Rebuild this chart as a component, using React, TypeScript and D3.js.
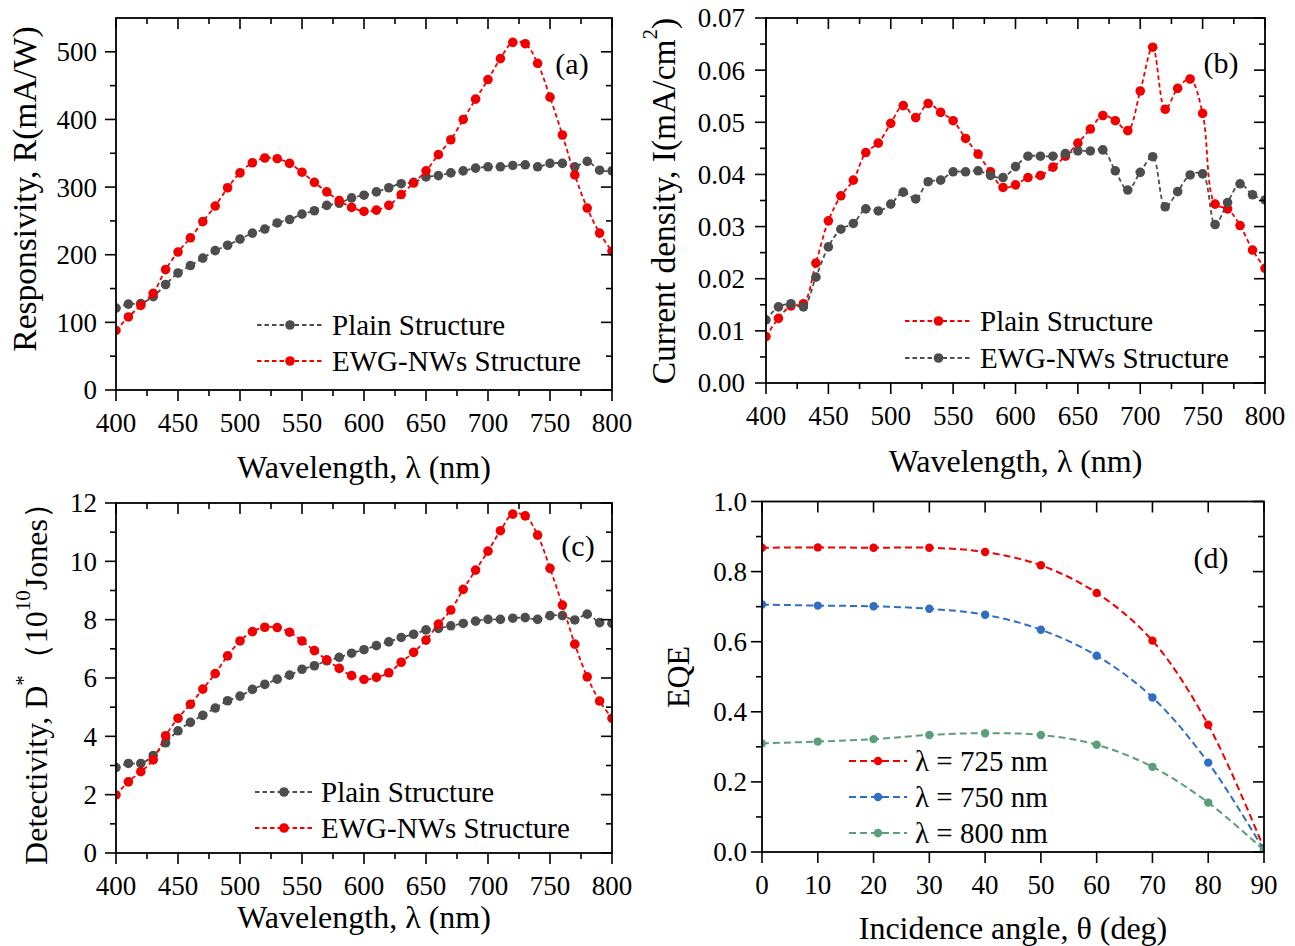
import React from 'react';
import * as d3 from 'd3';

const FONT = '"Liberation Serif", "Times New Roman", serif';

// ---------- data ----------
const wavelengths = [400, 410, 420, 430, 440, 450, 460, 470, 480, 490, 500, 510, 520, 530, 540, 550, 560, 570, 580, 590, 600, 610, 620, 630, 640, 650, 660, 670, 680, 690, 700, 710, 720, 730, 740, 750, 760, 770, 780, 790, 800];

// (a) Responsivity (mA/W)
const respPlain = [121, 127, 128, 138, 156, 173, 184, 195, 206, 214, 223, 232, 238, 247, 252, 260, 265, 273, 276, 284, 288, 293, 299, 305, 307, 315, 317, 321, 324, 328, 330, 330, 332, 333, 330, 335, 335, 330, 338, 325, 324];
const respEWG = [88, 108, 125, 143, 178, 204, 225, 249, 272, 299, 321, 336, 343, 342, 335, 322, 307, 293, 280, 270, 264, 266, 273, 289, 306, 324, 348, 370, 400, 430, 459, 490, 514, 512, 483, 433, 377, 318, 269, 232, 205];

// (b) Current density (mA/cm^2)
const curPlain = [0.0089, 0.0124, 0.0148, 0.0152, 0.0230, 0.0311, 0.0359, 0.0389, 0.0442, 0.0460, 0.0498, 0.0532, 0.0509, 0.0536, 0.0519, 0.0503, 0.0469, 0.0439, 0.0405, 0.0375, 0.0380, 0.0394, 0.0398, 0.0414, 0.0435, 0.0460, 0.0487, 0.0513, 0.0503, 0.0484, 0.0560, 0.0644, 0.0525, 0.0565, 0.0583, 0.0517, 0.0343, 0.0334, 0.0302, 0.0255, 0.0220];
const curEWG = [0.0121, 0.0146, 0.0152, 0.0146, 0.0203, 0.0261, 0.0295, 0.0306, 0.0334, 0.0330, 0.0343, 0.0366, 0.0353, 0.0386, 0.0389, 0.0405, 0.0405, 0.0407, 0.0398, 0.0394, 0.0415, 0.0435, 0.0435, 0.0435, 0.0440, 0.0445, 0.0445, 0.0447, 0.0407, 0.0370, 0.0404, 0.0434, 0.0338, 0.0367, 0.0399, 0.0401, 0.0304, 0.0346, 0.0382, 0.0361, 0.0351];

// (c) Detectivity (1e10 Jones)
const detPlain = [2.93, 3.07, 3.07, 3.34, 3.78, 4.19, 4.48, 4.72, 4.97, 5.22, 5.38, 5.61, 5.78, 5.96, 6.10, 6.30, 6.42, 6.59, 6.71, 6.85, 6.97, 7.11, 7.24, 7.39, 7.50, 7.65, 7.70, 7.79, 7.87, 7.95, 8.01, 8.01, 8.05, 8.07, 8.01, 8.14, 8.14, 7.99, 8.19, 7.90, 7.87];
const detEWG = [1.99, 2.44, 2.79, 3.19, 4.02, 4.62, 5.10, 5.62, 6.15, 6.76, 7.27, 7.59, 7.74, 7.73, 7.57, 7.27, 6.94, 6.62, 6.33, 6.08, 5.95, 6.02, 6.18, 6.54, 6.88, 7.30, 7.85, 8.33, 9.04, 9.70, 10.35, 11.05, 11.62, 11.56, 10.90, 9.76, 8.50, 7.16, 6.04, 5.21, 4.62];

// (d) EQE vs incidence angle
const angles = [0, 10, 20, 30, 40, 50, 60, 70, 80, 90];
const eqe725 = [0.868, 0.869, 0.868, 0.868, 0.856, 0.818, 0.739, 0.603, 0.363, 0.01];
const eqe750 = [0.706, 0.703, 0.701, 0.694, 0.677, 0.634, 0.560, 0.441, 0.255, 0.005];
const eqe800 = [0.310, 0.315, 0.322, 0.334, 0.339, 0.334, 0.306, 0.243, 0.141, 0.005];

// ---------- ticks ----------
const waveTicks = [400, 450, 500, 550, 600, 650, 700, 750, 800];
const waveMinor = [425, 475, 525, 575, 625, 675, 725, 775];
const respTicks = [0, 100, 200, 300, 400, 500];
const respMinor = [50, 150, 250, 350, 450];
const curTicks = [0, 0.01, 0.02, 0.03, 0.04, 0.05, 0.06, 0.07];
const curMinor = [0.005, 0.015, 0.025, 0.035, 0.045, 0.055, 0.065];
const detTicks = [0, 2, 4, 6, 8, 10, 12];
const detMinor = [1, 3, 5, 7, 9, 11];
const angleTicks = [0, 10, 20, 30, 40, 50, 60, 70, 80, 90];
const eqeTicks = [0, 0.2, 0.4, 0.6, 0.8, 1.0];
const eqeMinor = [0.1, 0.3, 0.5, 0.7, 0.9];

const RED = '#f20000';
const GRAY = '#4d4d4d';
const BLUE = '#2f6ec4';
const GREEN = '#5a9e7b';

type Series = { xs: number[]; ys: number[]; color: string; label: string };

interface PanelProps {
  id: string;
  left: number; right: number; top: number; bottom: number;
  xDomain: [number, number]; yDomain: [number, number];
  xMajor: number[]; xMinor: number[]; yMajor: number[]; yMinor: number[];
  xFmt: (v: number) => string; yFmt: (v: number) => string;
  yLabelGap: number;
  xTitle: React.ReactNode; xTitleY: number; xTitleSize: number;
  yTitle: React.ReactNode; yTitleX: number; yTitleY: number; yTitleSize: number;
  series: Series[];
  r: number; dash: string; lw: number;
  legend: { x1: number; x2: number; xt: number; ys: number[] };
  tag: string; tagX: number; tagY: number;
}

function Panel(p: PanelProps) {
  const x = d3.scaleLinear().domain(p.xDomain).range([p.left, p.right]);
  const y = d3.scaleLinear().domain(p.yDomain).range([p.bottom, p.top]);
  const line = d3
    .line<[number, number]>()
    .x((d) => x(d[0]))
    .y((d) => y(d[1]))
    .curve(d3.curveCatmullRom.alpha(0.5));
  const MAJ = 11;
  const MIN = 6;
  const clipId = `clip-${p.id}`;
  return (
    <g>
      <defs>
        <clipPath id={clipId}>
          <rect x={p.left} y={p.top} width={p.right - p.left} height={p.bottom - p.top} />
        </clipPath>
      </defs>
      <g clipPath={`url(#${clipId})`}>
        {p.series.map((s, i) => (
          <g key={i}>
            <path
              d={line(s.xs.map((v, j) => [v, s.ys[j]] as [number, number])) || ''}
              fill="none"
              stroke={s.color}
              strokeWidth={p.lw}
              strokeDasharray={p.dash}
            />
            {s.xs.map((v, j) => (
              <circle key={j} cx={x(v)} cy={y(s.ys[j])} r={p.r} fill={s.color} />
            ))}
          </g>
        ))}
      </g>
      <rect
        x={p.left}
        y={p.top}
        width={p.right - p.left}
        height={p.bottom - p.top}
        fill="none"
        stroke="#000"
        strokeWidth={1.8}
      />
      {p.xMajor.map((v) => (
        <g key={'xm' + v}>
          <line x1={x(v)} x2={x(v)} y1={p.bottom} y2={p.bottom + MAJ} stroke="#000" strokeWidth={1.6} />
          <line x1={x(v)} x2={x(v)} y1={p.top} y2={p.top + MAJ} stroke="#000" strokeWidth={1.6} />
          <text x={x(v)} y={p.bottom + 42} textAnchor="middle" fontSize={27} fontFamily={FONT} fill="#000">
            {p.xFmt(v)}
          </text>
        </g>
      ))}
      {p.xMinor.map((v) => (
        <g key={'xn' + v}>
          <line x1={x(v)} x2={x(v)} y1={p.bottom} y2={p.bottom + MIN} stroke="#000" strokeWidth={1.6} />
          <line x1={x(v)} x2={x(v)} y1={p.top} y2={p.top + MIN} stroke="#000" strokeWidth={1.6} />
        </g>
      ))}
      {p.yMajor.map((v) => (
        <g key={'ym' + v}>
          <line x1={p.left - MAJ} x2={p.left} y1={y(v)} y2={y(v)} stroke="#000" strokeWidth={1.6} />
          <line x1={p.right - MAJ} x2={p.right} y1={y(v)} y2={y(v)} stroke="#000" strokeWidth={1.6} />
          <text
            x={p.left - p.yLabelGap}
            y={y(v)}
            dy="0.35em"
            textAnchor="end"
            fontSize={27}
            fontFamily={FONT}
            fill="#000"
          >
            {p.yFmt(v)}
          </text>
        </g>
      ))}
      {p.yMinor.map((v) => (
        <g key={'yn' + v}>
          <line x1={p.left - MIN} x2={p.left} y1={y(v)} y2={y(v)} stroke="#000" strokeWidth={1.6} />
          <line x1={p.right - MIN} x2={p.right} y1={y(v)} y2={y(v)} stroke="#000" strokeWidth={1.6} />
        </g>
      ))}
      <text
        x={(p.left + p.right) / 2}
        y={p.xTitleY}
        textAnchor="middle"
        fontSize={p.xTitleSize}
        fontFamily={FONT}
        fill="#000"
      >
        {p.xTitle}
      </text>
      <text
        transform={`translate(${p.yTitleX},${p.yTitleY}) rotate(-90)`}
        textAnchor="middle"
        dominantBaseline="central"
        fontSize={p.yTitleSize}
        fontFamily={FONT}
        fill="#000"
      >
        {p.yTitle}
      </text>
      {p.series.map((s, i) => {
        const ly = p.legend.ys[i];
        const xm = (p.legend.x1 + p.legend.x2) / 2;
        return (
          <g key={'lg' + i}>
            <line
              x1={p.legend.x1}
              x2={p.legend.x2}
              y1={ly}
              y2={ly}
              stroke={s.color}
              strokeWidth={p.lw}
              strokeDasharray={p.dash}
            />
            <circle cx={xm} cy={ly} r={p.r} fill={s.color} />
            <text x={p.legend.xt} y={ly} dy="0.33em" fontSize={29} fontFamily={FONT} fill="#000">
              {s.label}
            </text>
          </g>
        );
      })}
      <text x={p.tagX} y={p.tagY} textAnchor="middle" fontSize={30} fontFamily={FONT} fill="#000">
        {p.tag}
      </text>
    </g>
  );
}

const fmtInt = d3.format('d');
const fmt2 = d3.format('.2f');
const fmt1 = d3.format('.1f');

const waveTitle = 'Wavelength, λ (nm)';

export default function App() {
  return (
    <svg
      width={1295}
      height={946}
      viewBox="0 0 1295 946"
      style={{ position: 'absolute', left: 0, top: 0, background: '#fff' }}
    >
      <rect x={0} y={0} width={1295} height={946} fill="#fff" />
      <Panel
        id="a"
        left={116}
        right={612}
        top={18}
        bottom={390}
        xDomain={[400, 800]}
        yDomain={[0, 550]}
        xMajor={waveTicks}
        xMinor={waveMinor}
        yMajor={respTicks}
        yMinor={respMinor}
        xFmt={fmtInt}
        yFmt={fmtInt}
        yLabelGap={19}
        xTitle={waveTitle}
        xTitleY={478}
        xTitleSize={32}
        yTitle={'Responsivity, R(mA/W)'}
        yTitleX={24}
        yTitleY={189}
        yTitleSize={33.5}
        series={[
          { xs: wavelengths, ys: respPlain, color: GRAY, label: 'Plain Structure' },
          { xs: wavelengths, ys: respEWG, color: RED, label: 'EWG-NWs Structure' },
        ]}
        r={4.8}
        dash="4.5,3"
        lw={1.8}
        legend={{ x1: 257, x2: 323, xt: 332, ys: [325, 361] }}
        tag="(a)"
        tagX={572}
        tagY={74}
      />
      <Panel
        id="b"
        left={766}
        right={1265}
        top={18}
        bottom={383}
        xDomain={[400, 800]}
        yDomain={[0, 0.07]}
        xMajor={waveTicks}
        xMinor={waveMinor}
        yMajor={curTicks}
        yMinor={curMinor}
        xFmt={fmtInt}
        yFmt={fmt2}
        yLabelGap={21}
        xTitle={waveTitle}
        xTitleY={472}
        xTitleSize={32}
        yTitle={
          <>
            Current density, I(mA/cm
            <tspan fontSize={21} dy={-13}>
              2
            </tspan>
            <tspan dy={13}>)</tspan>
          </>
        }
        yTitleX={663}
        yTitleY={201}
        yTitleSize={33.5}
        series={[
          { xs: wavelengths, ys: curPlain, color: RED, label: 'Plain Structure' },
          { xs: wavelengths, ys: curEWG, color: GRAY, label: 'EWG-NWs Structure' },
        ]}
        r={4.8}
        dash="4.5,3"
        lw={1.8}
        legend={{ x1: 905, x2: 972, xt: 980, ys: [321, 358] }}
        tag="(b)"
        tagX={1221}
        tagY={73}
      />
      <Panel
        id="c"
        left={116}
        right={612}
        top={503}
        bottom={853}
        xDomain={[400, 800]}
        yDomain={[0, 12]}
        xMajor={waveTicks}
        xMinor={waveMinor}
        yMajor={detTicks}
        yMinor={detMinor}
        xFmt={fmtInt}
        yFmt={fmtInt}
        yLabelGap={19}
        xTitle={waveTitle}
        xTitleY={928}
        xTitleSize={32}
        yTitle={
          <>
            Detectivity, D
            <tspan fontSize={21} dy={-13}>
              *
            </tspan>
            <tspan dy={13}>（10</tspan>
            <tspan fontSize={21} dy={-13}>
              10
            </tspan>
            <tspan dy={13}>Jones）</tspan>
          </>
        }
        yTitleX={36}
        yTitleY={676}
        yTitleSize={32}
        series={[
          { xs: wavelengths, ys: detPlain, color: GRAY, label: 'Plain Structure' },
          { xs: wavelengths, ys: detEWG, color: RED, label: 'EWG-NWs Structure' },
        ]}
        r={4.8}
        dash="4.5,3"
        lw={1.8}
        legend={{ x1: 255, x2: 313, xt: 321, ys: [792, 828] }}
        tag="(c)"
        tagX={578}
        tagY={556}
      />
      <Panel
        id="d"
        left={762}
        right={1264}
        top={501.5}
        bottom={852}
        xDomain={[0, 90]}
        yDomain={[0, 1.0]}
        xMajor={angleTicks}
        xMinor={[]}
        yMajor={eqeTicks}
        yMinor={eqeMinor}
        xFmt={fmtInt}
        yFmt={fmt1}
        yLabelGap={15}
        xTitle={'Incidence angle, θ (deg)'}
        xTitleY={939}
        xTitleSize={32}
        yTitle={'EQE'}
        yTitleX={678}
        yTitleY={677}
        yTitleSize={32}
        series={[
          { xs: angles, ys: eqe725, color: RED, label: 'λ = 725 nm' },
          { xs: angles, ys: eqe750, color: BLUE, label: 'λ = 750 nm' },
          { xs: angles, ys: eqe800, color: GREEN, label: 'λ = 800 nm' },
        ]}
        r={4.2}
        dash="7,4"
        lw={2}
        legend={{ x1: 849, x2: 907, xt: 915, ys: [761, 797, 833] }}
        tag="(d)"
        tagX={1211}
        tagY={568}
      />
    </svg>
  );
}
